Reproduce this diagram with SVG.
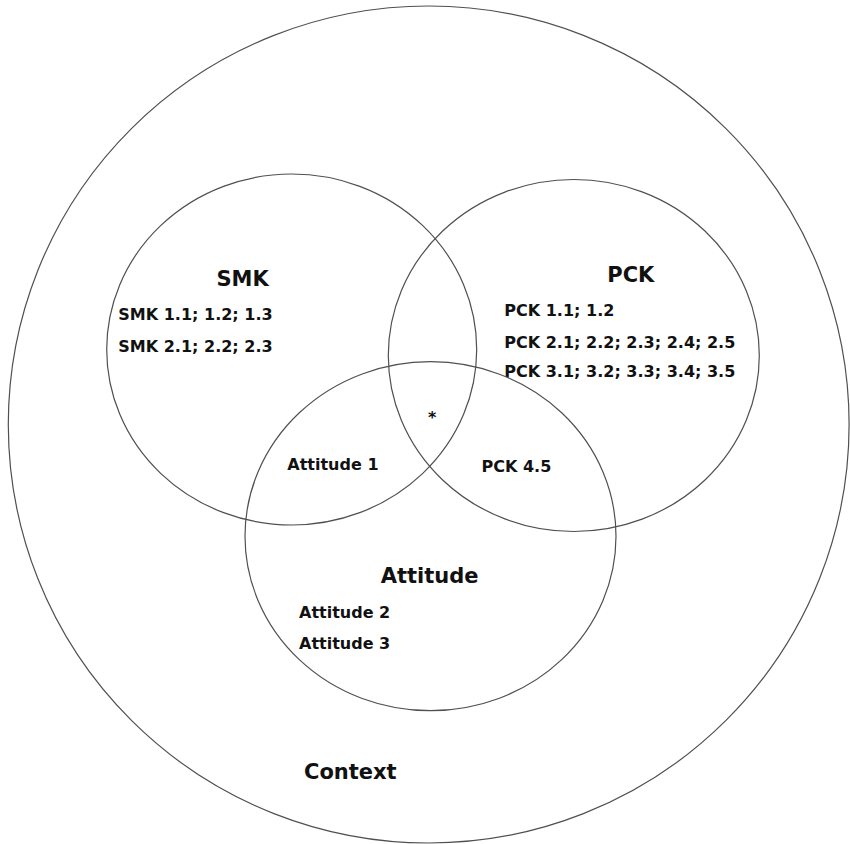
<svg xmlns="http://www.w3.org/2000/svg" width="850" height="844" viewBox="0 0 850 844">
<style>
.c{fill:none;stroke:#505050;stroke-width:1.2}
.t{font-family:"DejaVu Sans",sans-serif;font-weight:bold;font-size:21px;fill:#111}
.s{font-family:"DejaVu Sans",sans-serif;font-weight:bold;font-size:16px;fill:#111}
</style>
<rect width="850" height="844" fill="#fff"/>
<g id="context">
<ellipse class="c" cx="428.7" cy="424.5" rx="420.4" ry="418.5"/>
<text class="t" x="304" y="778.5">Context</text>
</g>
<g id="smk">
<ellipse class="c" cx="291.7" cy="349.5" rx="185" ry="175.5"/>
<text class="t" x="216.5" y="285.7">SMK</text>
<text class="s" x="118.3" y="320">SMK 1.1; 1.2; 1.3</text>
<text class="s" x="118.3" y="351.7">SMK 2.1; 2.2; 2.3</text>
</g>
<g id="pck">
<ellipse class="c" cx="573.8" cy="355.5" rx="185.5" ry="176"/>
<text class="t" x="607.3" y="281.7">PCK</text>
<text class="s" x="504.3" y="316">PCK 1.1; 1.2</text>
<text class="s" x="504.3" y="348.3">PCK 2.1; 2.2; 2.3; 2.4; 2.5</text>
<text class="s" x="504.3" y="377.3">PCK 3.1; 3.2; 3.3; 3.4; 3.5</text>
</g>
<g id="attitude">
<ellipse class="c" cx="430.5" cy="536.2" rx="185.5" ry="174.5"/>
<text class="t" x="380.7" y="583.3">Attitude</text>
<text class="s" x="299" y="617.7">Attitude 2</text>
<text class="s" x="299" y="649.3">Attitude 3</text>
</g>
<g id="overlaps">
<text class="s" x="287.3" y="470">Attitude 1</text>
<text class="s" x="481.5" y="472">PCK 4.5</text>
<text class="s" x="428" y="423">*</text>
</g>
<g id="connectors"></g>
</svg>
